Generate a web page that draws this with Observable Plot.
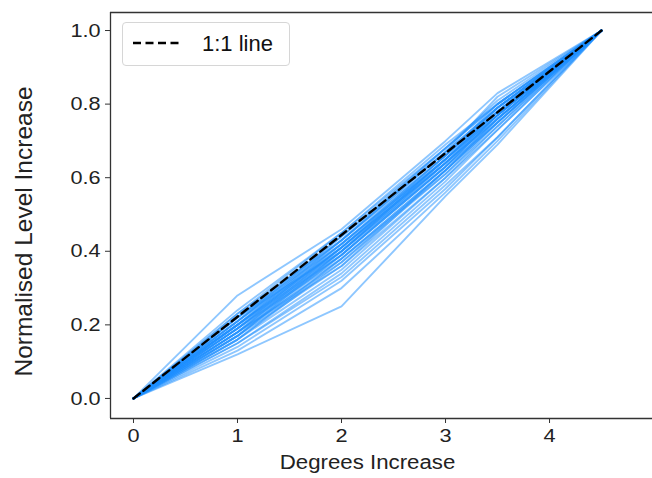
<!DOCTYPE html>
<html>
<head>
<meta charset="utf-8">
<script src="https://cdn.jsdelivr.net/npm/d3@7"></script>
<script src="https://cdn.jsdelivr.net/npm/@observablehq/plot@0.6"></script>
<style>
  html, body { margin: 0; padding: 0; background: #fff; }
  #wrap { position: relative; width: 652px; height: 478px; font-family: "Liberation Sans", Arial, sans-serif; }
  #legend { position: absolute; left: 122px; top: 22px; width: 168px; height: 44px; border: 1px solid #d6d6d6; border-radius: 4px; background: #fff; box-sizing: border-box; }
  #legend svg { position: absolute; left: 9px; top: 12px; }
  #legend span { position: absolute; left: 79px; top: 8px; font-size: 22px; color: #111; white-space: nowrap; }
</style>
</head>
<body>
<div id="wrap"></div>
<script>
// Degrees of warming at which each series was sampled
const degrees = [0, 1, 2, 3, 3.5, 4.5];
// Normalised level increase for each model run
const runs = [
  [0, 0.28, 0.46, 0.70, 0.83, 1],
  [0, 0.12, 0.25, 0.55, 0.69, 1],
  [0, 0.15, 0.33, 0.58, 0.71, 1],
  [0, 0.16, 0.35, 0.60, 0.73, 1],
  [0, 0.24, 0.45, 0.69, 0.80, 1],
  [0, 0.22, 0.44, 0.67, 0.79, 1],
  [0, 0.21, 0.43, 0.66, 0.78, 1],
  [0, 0.20, 0.42, 0.65, 0.77, 1],
  [0, 0.19, 0.41, 0.64, 0.76, 1],
  [0, 0.18, 0.40, 0.63, 0.76, 1],
  [0, 0.17, 0.38, 0.62, 0.75, 1],
  [0, 0.18, 0.37, 0.61, 0.74, 1],
  [0, 0.20, 0.40, 0.64, 0.77, 1],
  [0, 0.21, 0.42, 0.66, 0.79, 1],
  [0, 0.19, 0.39, 0.63, 0.75, 1],
  [0, 0.17, 0.36, 0.60, 0.74, 1],
  [0, 0.16, 0.37, 0.62, 0.76, 1],
  [0, 0.22, 0.43, 0.68, 0.81, 1],
  [0, 0.20, 0.41, 0.66, 0.80, 1],
  [0, 0.19, 0.40, 0.65, 0.78, 1],
  [0, 0.18, 0.39, 0.64, 0.77, 1],
  [0, 0.21, 0.44, 0.68, 0.80, 1],
  [0, 0.15, 0.34, 0.59, 0.73, 1],
  [0, 0.20, 0.41, 0.64, 0.76, 1],
  [0, 0.22, 0.42, 0.65, 0.78, 1],
  [0, 0.19, 0.42, 0.66, 0.79, 1],
  [0, 0.17, 0.39, 0.63, 0.77, 1],
  [0, 0.18, 0.41, 0.65, 0.78, 1],
  [0, 0.23, 0.45, 0.68, 0.80, 1],
  [0, 0.14, 0.32, 0.57, 0.71, 1],
  [0, 0.20, 0.43, 0.67, 0.79, 1],
  [0, 0.21, 0.41, 0.65, 0.77, 1],
  [0, 0.19, 0.38, 0.62, 0.75, 1],
  [0, 0.16, 0.38, 0.61, 0.75, 1],
  [0, 0.18, 0.36, 0.62, 0.76, 1],
  [0, 0.20, 0.39, 0.63, 0.77, 1],
  [0, 0.22, 0.40, 0.64, 0.78, 1],
  [0, 0.13, 0.30, 0.56, 0.70, 1],
  [0, 0.17, 0.40, 0.65, 0.79, 1],
  [0, 0.23, 0.43, 0.67, 0.82, 1]
];
// The 1:1 reference line
const oneToOneX = [0, 4.5];
const oneToOneY = [0, 1];
const xTicks = [0, 1, 2, 3, 4];
const yTicks = [0, 0.2, 0.4, 0.6, 0.8, 1.0];
const xLabel = "Degrees Increase";
const yLabel = "Normalised Level Increase";
const legendLabel = "1:1 line";

const xDomain = [-0.221, 4.99];
const yDomain = [-0.0545, 1.049];

const lineData = runs.flatMap((vals, k) => vals.map((v, i) => ({run: k, x: degrees[i], y: v})));
const refData = oneToOneX.map((x, i) => ({x, y: oneToOneY[i]}));

const chart = Plot.plot({
  width: 652,
  height: 478,
  marginLeft: 110,
  marginRight: 0,
  marginTop: 12,
  marginBottom: 60,
  style: {fontFamily: "'Liberation Sans', Arial, sans-serif", fontSize: "19px", color: "#222", background: "#fff"},
  x: {domain: xDomain, label: null},
  y: {domain: yDomain, label: null},
  marks: [
    Plot.line(lineData, {x: "x", y: "y", z: "run", stroke: "#1e90ff", strokeOpacity: 0.5, strokeWidth: 1.9}),
    Plot.line(refData, {x: "x", y: "y", stroke: "#000", strokeWidth: 2.4, strokeDasharray: "8,4.5"}),
    Plot.ruleY([yDomain[0], yDomain[1]], {stroke: "#333", strokeWidth: 1.3}),
    Plot.ruleX([xDomain[0]], {stroke: "#333", strokeWidth: 1.3}),
    Plot.axisX({ticks: xTicks, tickFormat: d3.format("d"), tickSize: 5, tickPadding: 5, stroke: "#333", fontSize: 19, label: null}),
    Plot.axisY({ticks: yTicks, tickFormat: d3.format(".1f"), tickSize: 5, tickPadding: 5, stroke: "#333", fontSize: 19, label: null}),
    Plot.text([xLabel], {frameAnchor: "bottom", dx: -14, dy: 50, fontSize: 19.5, fill: "#222"}),
    Plot.text([yLabel], {frameAnchor: "left", textAnchor: "middle", dx: -86, dy: 16, rotate: -90, fontSize: 24.5, fill: "#222"})
  ]
});

const wrap = document.getElementById("wrap");
wrap.appendChild(chart);

// the reference's horizontal text is slightly wide; stretch non-rotated texts
d3.select(chart).selectAll("text").each(function() {
  const t = this.getAttribute("transform") || "";
  if (t.includes("rotate")) return;
  const w = this.getComputedTextLength();
  if (w > 0) {
    this.setAttribute("textLength", (w * 1.14).toFixed(1));
    this.setAttribute("lengthAdjust", "spacingAndGlyphs");
  }
});

const legend = document.createElement("div");
legend.id = "legend";
legend.innerHTML = `<svg width="52" height="16"><line x1="1" y1="8" x2="48" y2="8" stroke="#000" stroke-width="2.4" stroke-dasharray="8,4.5"/></svg><span>${legendLabel}</span>`;
wrap.appendChild(legend);
</script>
</body>
</html>
